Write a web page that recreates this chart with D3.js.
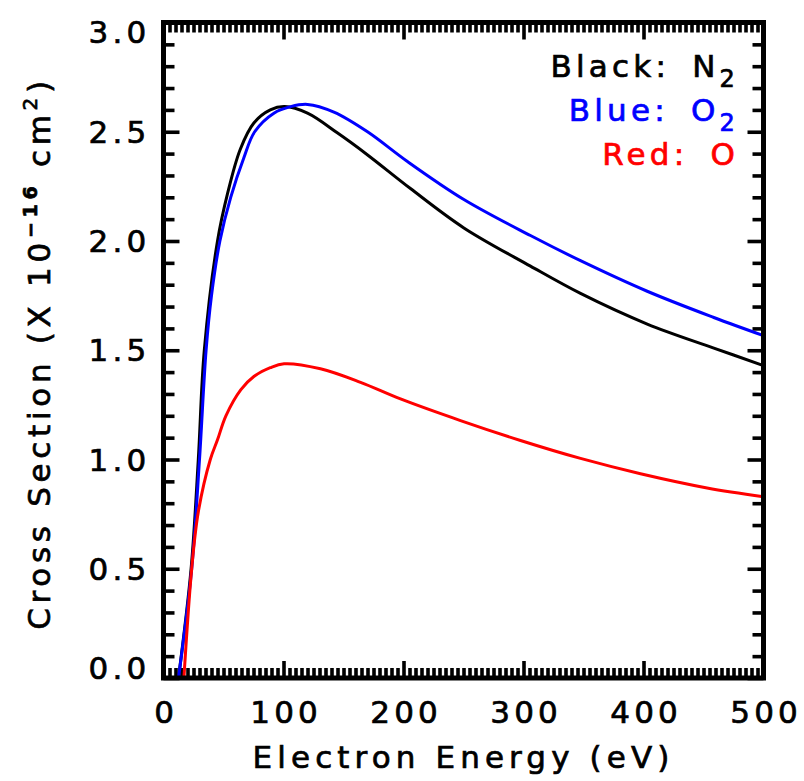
<!DOCTYPE html>
<html>
<head>
<meta charset="utf-8">
<script src="https://cdn.jsdelivr.net/npm/d3@7"></script>
<style>
  html, body { margin: 0; padding: 0; background: #fff; }
  svg { display: block; }
  text { font-family: "DejaVu Sans", sans-serif; fill: #000; }
</style>
</head>
<body>
<svg id="chart" width="804" height="781"></svg>
<script>
// Electron-impact ionization cross sections (units of 1e-16 cm^2) vs electron energy (eV)
const energyN2 = [12.5, 23.0, 29.0, 34.0, 45.0, 53.5, 64.0, 75.3, 89.0, 101.0, 120.0, 144.8, 169.8, 205.8, 250.3, 305.8, 347.5, 403.1, 458.6, 500];
const sigmaN2  = [0.00, 0.50, 1.00, 1.50, 2.00, 2.22, 2.42, 2.54, 2.60, 2.615, 2.585, 2.495, 2.395, 2.24, 2.06, 1.885, 1.76, 1.62, 1.51, 1.43];

const energyO2 = [12.5, 23.5, 30.0, 35.5, 40.0, 47.0, 56.0, 66.9, 76.0, 92.0, 106.0, 120.0, 142.0, 170.0, 203.0, 250.3, 305.8, 347.5, 403.1, 458.6, 500];
const sigmaO2  = [0.00, 0.50, 1.00, 1.50, 1.75, 2.00, 2.20, 2.38, 2.50, 2.585, 2.615, 2.625, 2.59, 2.50, 2.365, 2.19, 2.025, 1.91, 1.77, 1.65, 1.567];

const energyO = [17.0, 23.5, 29.0, 39.0, 45.0, 52.0, 64.5, 75.3, 89.0, 100.5, 130.8, 164.2, 197.5, 247.5, 297.5, 347.5, 397.5, 453.0, 500];
const sigmaO  = [0.00, 0.50, 0.76, 1.00, 1.09, 1.20, 1.32, 1.38, 1.42, 1.438, 1.415, 1.353, 1.277, 1.178, 1.087, 1.005, 0.935, 0.870, 0.83];

const xMajorTicks = [0, 100, 200, 300, 400, 500];
const yMajorTicks = [0.0, 0.5, 1.0, 1.5, 2.0, 2.5, 3.0];
const xMinorStep = 5;
const yMinorStep = 0.1;

const legendEntries = [
  { label: "Black:", species: "N", sub: "2", color: "#000000" },
  { label: "Blue:",  species: "O", sub: "2", color: "#0000ff" },
  { label: "Red:",   species: "O", sub: "",  color: "#ff0000" }
];

const series = [
  { x: energyN2, y: sigmaN2, color: "#000000" },
  { x: energyO2, y: sigmaO2, color: "#0000ff" },
  { x: energyO,  y: sigmaO,  color: "#ff0000" }
];

const svg = d3.select("#chart");
const plotLeft = 163.5, plotRight = 763.5, plotTop = 22.5, plotBottom = 678;
const fs = 31, ls = 4.2;

const x = d3.scaleLinear().domain([0, 500]).range([plotLeft, plotRight]);
const y = d3.scaleLinear().domain([0, 3]).range([plotBottom, plotTop]);

const xMinor = d3.range(0, 500 + 1e-9, xMinorStep).filter(v => v % 100 !== 0);
const yMinor = d3.range(0, 3 + 1e-9, yMinorStep).map(v => +v.toFixed(1)).filter(v => Math.abs(v * 2 - Math.round(v * 2)) > 1e-6);

// slightly heavier glyphs via a thin outline in the fill colour
function heavy(sel, color) {
  sel.style("stroke", color).style("stroke-width", "0.7px").style("paint-order", "stroke");
}

function styleAxis(g) {
  g.select(".domain").remove();
  g.selectAll(".tick line").attr("stroke", "#000").attr("stroke-width", 3.6);
  g.selectAll(".tick text")
    .style("font-family", "DejaVu Sans, sans-serif")
    .style("font-size", fs + "px")
    .style("letter-spacing", ls + "px")
    .attr("fill", "#000")
    .call(heavy, "#000");
}

// minor ticks on all four sides
svg.append("g").attr("transform", `translate(0,${plotBottom})`)
  .call(d3.axisBottom(x).tickValues(xMinor).tickSize(-10).tickFormat("")).call(styleAxis);
svg.append("g").attr("transform", `translate(0,${plotTop})`)
  .call(d3.axisTop(x).tickValues(xMinor).tickSize(-10).tickFormat("")).call(styleAxis);
svg.append("g").attr("transform", `translate(${plotLeft},0)`)
  .call(d3.axisLeft(y).tickValues(yMinor).tickSize(-11).tickFormat("")).call(styleAxis);
svg.append("g").attr("transform", `translate(${plotRight},0)`)
  .call(d3.axisRight(y).tickValues(yMinor).tickSize(-11).tickFormat("")).call(styleAxis);

// major ticks with labels
svg.append("g").attr("transform", `translate(0,${plotBottom})`)
  .call(d3.axisBottom(x).tickValues(xMajorTicks).tickSize(-17).tickPadding(23).tickFormat(d3.format("d")))
  .call(styleAxis)
  .call(g => g.selectAll(".tick text").attr("dx", ls / 2));
svg.append("g").attr("transform", `translate(0,${plotTop})`)
  .call(d3.axisTop(x).tickValues(xMajorTicks).tickSize(-17).tickFormat("")).call(styleAxis);
svg.append("g").attr("transform", `translate(${plotLeft},0)`)
  .call(d3.axisLeft(y).tickValues(yMajorTicks).tickSize(-16).tickPadding(13).tickFormat(d3.format(".1f")))
  .call(styleAxis)
  .call(g => g.selectAll(".tick text").attr("dy", d => d === 0 ? "0.0em" : d === 3 ? "0.65em" : "0.34em"));
svg.append("g").attr("transform", `translate(${plotRight},0)`)
  .call(d3.axisRight(y).tickValues(yMajorTicks).tickSize(-16).tickFormat("")).call(styleAxis);

// curves
const line = d3.line().curve(d3.curveCatmullRom.alpha(0.5));
series.forEach(s => {
  svg.append("path")
    .datum(s.x.map((e, i) => [x(e), y(s.y[i])]))
    .attr("d", line)
    .attr("fill", "none")
    .attr("stroke", s.color)
    .attr("stroke-width", 3)
    .attr("stroke-linejoin", "round")
    .attr("stroke-linecap", "round");
});

// frame
svg.append("rect")
  .attr("x", plotLeft).attr("y", plotTop)
  .attr("width", plotRight - plotLeft).attr("height", plotBottom - plotTop)
  .attr("fill", "none").attr("stroke", "#000").attr("stroke-width", 5);

// axis titles
svg.append("text")
  .attr("x", x(250)).attr("y", 768)
  .attr("text-anchor", "middle")
  .style("font-size", fs + "px").style("letter-spacing", "5.1px")
  .call(heavy, "#000")
  .text("Electron Energy (eV)");

const yTitle = svg.append("text")
  .attr("transform", `translate(50,${(77 + 625) / 2 + 2}) rotate(-90)`)
  .attr("text-anchor", "middle")
  .style("font-size", fs + "px").style("letter-spacing", "4.7px")
  .call(heavy, "#000");
yTitle.append("tspan").text("Cross Section (X 10");
yTitle.append("tspan").attr("dy", -13).style("font-size", "19px").style("font-weight", "bold").text("\u221216");
yTitle.append("tspan").attr("dy", 13).text(" cm");
yTitle.append("tspan").attr("dy", -13).style("font-size", "20px").text("2");
yTitle.append("tspan").attr("dy", 13).text(")");

// legend, right-aligned inside the frame
legendEntries.forEach((d, i) => {
  const t = svg.append("text")
    .attr("x", 739).attr("y", 77 + i * 44)
    .attr("text-anchor", "end")
    .attr("fill", d.color)
    .style("fill", d.color)
    .style("font-size", fs + "px").style("letter-spacing", ls + "px")
    .call(heavy, d.color);
  t.append("tspan").text(d.label + " ");
  t.append("tspan").attr("dx", 8).text(d.species);
  if (d.sub) {
    t.append("tspan").attr("dy", 10).style("font-size", "24px").text(d.sub);
  }
});
</script>
</body>
</html>
